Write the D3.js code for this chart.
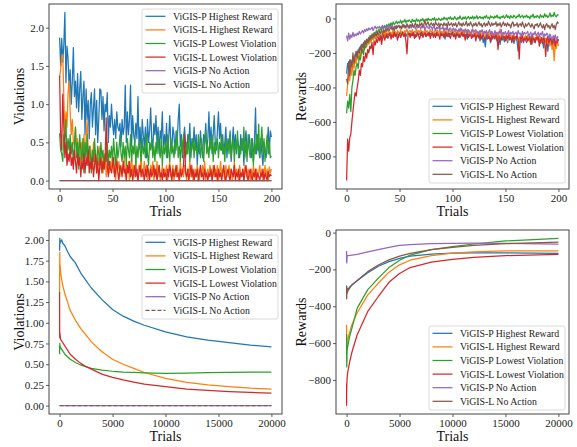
<!DOCTYPE html>
<html><head><meta charset="utf-8">
<script src="https://cdn.jsdelivr.net/npm/d3@7/dist/d3.min.js"></script>
<style>
html,body{margin:0;padding:0;background:#fff;}
svg{display:block;font-family:"Liberation Serif","Times New Roman",serif;}
</style></head>
<body><svg id="chart" width="577" height="447"></svg>
<script>
// ---------- series names & colours ----------
const seriesNames = ["ViGIS-P Highest Reward","ViGIS-L Highest Reward","ViGIS-P Lowest Violation","ViGIS-L Lowest Violation","ViGIS-P No Action","ViGIS-L No Action"];
const seriesColors = ["#1f77b4","#ff7f0e","#2ca02c","#d62728","#9467bd","#8c564b"];

// ---------- top-left: violations per trial (0..200) ----------
const trials200 = d3.range(0, 201);
const violPHigh = [1.87,1.5,1.86,1.55,1.78,2.2,1.28,1.76,1.6,1.2,
1.45,1.0,1.3,1.74,1.1,1.3,0.95,1.4,0.9,1.2,
1.43,0.8,1.1,1.3,0.6,1.2,0.8,1.05,0.55,1.0,
1.15,0.7,0.95,1.2,0.6,1.05,0.5,0.8,1.2,1.18,
0.8,1.1,0.65,1.0,0.9,1.15,0.5,0.85,0.7,1.0,
0.75,0.6,0.8,0.55,0.9,0.7,0.65,0.75,0.45,0.8,
0.6,0.7,1.25,0.5,0.9,0.6,0.8,1.25,0.45,0.85,
0.6,0.5,0.75,0.55,1.1,0.45,0.7,0.35,0.8,0.6,
0.45,0.7,0.3,0.8,0.5,0.65,0.95,0.55,0.4,0.75,
0.6,0.85,0.45,0.7,0.35,0.65,0.55,0.9,0.4,0.6,
0.45,0.75,0.3,0.55,0.85,0.5,0.4,0.7,0.6,0.35,
0.65,0.5,0.8,1.0,0.45,0.6,0.3,0.55,0.7,0.45,
0.35,0.6,0.5,0.75,0.3,0.55,0.45,0.7,0.4,0.6,
0.2,0.5,0.35,0.65,0.45,0.3,0.6,0.5,0.75,0.4,
0.55,0.9,0.45,0.7,0.35,0.6,0.85,0.5,0.4,0.65,
0.9,0.55,0.75,0.4,0.6,0.35,0.5,0.7,0.3,0.55,
0.45,0.65,0.25,0.5,0.7,0.4,0.6,0.35,0.55,0.45,
0.3,0.6,0.4,0.55,0.2,0.5,0.65,0.35,0.45,0.6,
0.4,0.3,0.55,0.25,0.5,0.95,0.35,0.6,0.4,0.3,
0.55,0.35,0.2,0.5,0.4,0.3,0.45,0.7,0.35,0.65,
0.57];
const violLHigh = [1.35,1.45,1.62,1.65,1.1,0.6,0.9,0.7,1.15,1.3,
0.9,0.6,0.8,0.5,0.45,0.7,0.3,0.55,0.4,0.2,
0.35,0.5,0.25,0.6,0.3,0.55,0.8,0.4,0.2,0.45,
0.3,0.15,0.5,0.25,0.4,0.1,0.3,0.2,0.45,0.15,
0.3,0.1,0.25,0.35,0.05,0.2,0.3,0.1,0.25,0.15,
0.35,0.1,0.2,0.0,0.3,0.15,0.25,0.05,0.2,0.1,
0.15,0.3,0.05,0.2,0.1,0.25,0.0,0.15,0.3,0.1,
0.2,0.05,0.25,0.1,0.0,0.2,0.15,0.3,0.05,0.1,
0.25,0.1,0.2,0.0,0.15,0.05,0.2,0.1,0.25,0.0,
0.15,0.1,0.25,0.05,0.2,0.0,0.1,0.2,0.05,0.15,
0.1,0.2,0.0,0.15,0.25,0.05,0.1,0.2,0.0,0.15,
0.05,0.2,0.1,0.0,0.25,0.1,0.15,0.05,0.2,0.1,
0.0,0.15,0.1,0.25,0.05,0.2,0.0,0.1,0.15,0.05,
0.2,0.1,0.0,0.15,0.05,0.2,0.1,0.25,0.0,0.1,
0.15,0.05,0.2,0.1,0.0,0.2,0.05,0.15,0.1,0.2,
0.0,0.1,0.25,0.05,0.15,0.1,0.0,0.2,0.05,0.1,
0.2,0.05,0.15,0.0,0.1,0.25,0.05,0.15,0.1,0.0,
0.2,0.1,0.05,0.15,0.0,0.2,0.1,0.05,0.15,0.1,
0.0,0.15,0.05,0.2,0.1,0.0,0.15,0.05,0.1,0.2,
0.05,0.15,0.0,0.1,0.2,0.05,0.15,0.0,0.18,0.1,
0.15];
const violPLow = [0.62,0.4,0.35,0.25,0.6,0.5,0.8,0.3,0.55,0.4,
0.6,0.35,0.5,0.2,0.45,0.7,0.3,0.5,0.15,0.6,
0.4,0.25,0.55,0.1,0.5,0.3,0.6,0.2,0.45,0.35,
0.1,0.4,0.25,0.55,0.3,0.15,0.45,0.35,0.2,0.5,
0.3,0.4,0.15,0.35,0.25,0.5,0.2,0.4,0.3,0.45,
0.25,0.55,0.35,0.2,0.5,0.3,0.4,0.6,0.35,0.25,
0.5,0.3,0.45,0.2,0.55,0.4,0.3,0.6,0.25,0.45,
0.35,0.55,0.2,0.45,0.3,0.5,0.4,0.25,0.55,0.35,
0.45,0.3,0.6,0.35,0.2,0.5,0.4,0.55,0.3,0.45,
0.25,0.5,0.35,0.6,0.4,0.3,0.55,0.2,0.45,0.35,
0.5,0.3,0.6,0.4,0.25,0.55,0.35,0.45,0.3,0.5,
0.4,0.65,0.3,0.45,0.25,0.55,0.35,0.6,0.4,0.3,
0.5,0.35,0.6,0.25,0.45,0.4,0.55,0.3,0.5,0.4,
0.35,0.6,0.45,0.3,0.55,0.4,0.25,0.5,0.65,0.35,
0.45,0.3,0.55,0.4,0.6,0.25,0.5,0.35,0.45,0.55,
0.3,0.5,0.4,0.6,0.35,0.45,0.25,0.55,0.4,0.5,
0.35,0.6,0.3,0.45,0.55,0.25,0.5,0.4,0.65,0.3,
0.45,0.35,0.55,0.4,0.7,0.3,0.5,0.25,0.6,0.4,
0.3,0.55,0.45,0.2,0.5,0.35,0.6,0.4,0.74,0.3,
0.5,0.7,0.35,0.55,0.25,0.45,0.6,0.35,0.5,0.3,
0.32];
const violLLow = [1.37,0.6,0.4,1.13,0.7,0.3,0.5,0.2,0.35,0.25,
0.45,0.2,0.3,0.15,0.4,0.25,0.1,0.35,0.2,0.3,
0.05,0.25,0.15,0.35,0.1,0.3,0.2,0.4,0.1,0.25,
0.15,0.3,0.05,0.2,0.35,0.1,0.25,0.0,0.2,0.3,
0.1,0.25,0.15,0.3,0.82,0.2,0.05,0.25,0.15,0.1,
0.2,0.3,0.05,0.15,0.25,0.1,0.0,0.2,0.15,0.05,
0.25,0.1,0.15,0.0,0.2,0.1,0.25,0.05,0.15,0.0,
0.1,0.2,0.05,0.15,0.0,0.1,0.2,0.05,0.15,0.1,
0.0,0.15,0.05,0.2,0.1,0.0,0.15,0.05,0.1,0.2,
0.05,0.15,0.0,0.1,0.2,0.05,0.1,0.0,0.15,0.05,
0.1,0.0,0.15,0.05,0.2,0.1,0.0,0.15,0.05,0.1,
0.2,0.05,0.1,0.0,0.15,0.05,0.1,0.2,0.6,0.1,
0.05,0.15,0.0,0.1,0.2,0.05,0.15,0.0,0.1,0.05,
0.15,0.0,0.1,0.2,0.05,0.1,0.0,0.15,0.05,0.1,
0.0,0.1,0.05,0.15,0.0,0.1,0.2,0.05,0.1,0.0,
0.15,0.05,0.1,0.0,0.1,0.2,0.05,0.0,0.1,0.15,
0.05,0.0,0.15,0.1,0.05,0.2,0.0,0.1,0.05,0.15,
0.0,0.1,0.05,0.15,0.0,0.1,0.2,0.05,0.0,0.1,
0.15,0.05,0.0,0.1,0.05,0.15,0.0,0.1,0.05,0.0,
0.1,0.05,0.15,0.0,0.1,0.05,0.0,0.12,0.05,0.08,
0.06];
const noActionTrials = [0, 200];
const violNoActionP = [0, 0];
const violNoActionL = [0, 0];

// ---------- top-right: rewards per trial (0..200) ----------
const rewPHigh = [-320,-260,-290,-240,-270,-300,-230,-250,-210,-220,
-190,-200,-170,-180,-150,-165,-140,-160,-130,-150,
-125,-140,-110,-130,-105,-120,-100,-115,-95,-110,
-90,-105,-85,-120,-95,-80,-100,-90,-110,-85,
-95,-80,-105,-90,-75,-100,-85,-95,-80,-110,
-90,-80,-100,-85,-95,-75,-105,-90,-80,-95,
-85,-100,-80,-95,-90,-110,-85,-75,-95,-90,
-80,-100,-85,-95,-75,-105,-90,-80,-100,-85,
-95,-80,-110,-90,-85,-100,-75,-95,-90,-80,
-100,-85,-95,-120,-80,-90,-105,-85,-95,-80,
-90,-105,-85,-100,-80,-95,-110,-90,-85,-100,
-95,-80,-105,-90,-120,-85,-100,-95,-80,-110,
-100,-90,-115,-95,-105,-85,-130,-100,-95,-140,
-110,-165,-100,-120,-95,-110,-140,-105,-120,-100,
-115,-95,-130,-105,-120,-150,-100,-125,-110,-135,
-105,-120,-140,-110,-125,-100,-130,-115,-145,-120,
-110,-135,-190,-120,-105,-140,-115,-130,-110,-125,
-140,-115,-120,-100,-130,-150,-110,-125,-140,-115,
-105,-130,-120,-145,-110,-125,-170,-115,-135,-120,
-190,-130,-110,-140,-120,-150,-125,-160,-135,-120,
-130];
const rewLHigh = [-450,-380,-310,-360,-270,-330,-250,-290,-230,-260,
-210,-240,-190,-220,-170,-200,-160,-180,-140,-165,
-130,-150,-120,-140,-105,-125,-110,-95,-120,-100,
-90,-110,-85,-100,-95,-80,-105,-75,-95,-85,
-70,-90,-80,-95,-65,-85,-75,-100,-70,-80,
-90,-65,-85,-75,-95,-70,-80,-60,-90,-75,
-70,-85,-65,-95,-75,-80,-60,-90,-70,-85,
-65,-80,-75,-90,-60,-85,-70,-80,-95,-65,
-80,-70,-90,-75,-60,-85,-70,-95,-65,-80,
-75,-90,-60,-85,-70,-80,-95,-65,-75,-85,
-70,-90,-65,-80,-100,-70,-85,-60,-90,-75,
-80,-95,-70,-85,-65,-90,-75,-100,-80,-70,
-85,-95,-75,-110,-80,-90,-70,-100,-85,-95,
-75,-105,-90,-80,-115,-85,-100,-75,-95,-110,
-85,-100,-80,-120,-90,-60,-105,-95,-85,-115,
-100,-90,-130,-85,-110,-95,-120,-100,-90,-125,
-105,-95,-115,-140,-100,-120,-90,-130,-110,-100,
-125,-95,-115,-135,-105,-120,-100,-140,-110,-125,
-95,-130,-115,-105,-140,-120,-100,-135,-115,-150,
-110,-130,-160,-120,-180,-140,-245,-150,-175,-130,
-160];
const rewPLow = [-550,-480,-520,-440,-540,-400,-360,-300,-330,-280,
-260,-290,-220,-240,-200,-180,-210,-160,-170,-140,
-120,-135,-100,-115,-90,-105,-80,-95,-70,-85,
-65,-75,-55,-70,-45,-60,-40,-55,-35,-50,
-30,-45,-25,-40,-20,-35,-28,-15,-30,-20,
-25,-10,-30,-15,-20,-5,-25,-12,-18,-8,
-15,-25,-5,-18,-10,-20,-2,-15,-8,-22,
-5,-12,0,-18,-8,-3,-15,2,-10,-5,
-12,0,-8,5,-15,-3,-10,2,-6,-12,
0,-8,8,-4,3,-10,5,-2,10,-6,
2,-5,12,0,-8,6,-3,15,1,-6,
8,-2,10,-5,4,12,-3,7,0,14,
-4,9,2,16,-2,6,11,0,8,-3,
12,4,18,2,8,-4,15,6,10,0,
14,5,20,3,9,-2,12,7,16,2,
10,22,6,13,0,17,8,4,19,9,
2,15,10,24,5,12,18,3,14,8,
20,6,11,-2,16,9,25,4,13,7,
18,10,2,22,8,15,5,28,11,19,
6,14,32,9,20,12,35,16,10,22,
18];
const rewLLow = [-940,-700,-770,-690,-670,-600,-540,-480,-430,-450,
-400,-360,-300,-330,-260,-280,-220,-250,-200,-230,
-180,-200,-160,-175,-140,-210,-130,-155,-120,-140,
-110,-130,-100,-150,-115,-95,-125,-105,-90,-115,
-100,-85,-120,-95,-110,-80,-105,-90,-125,-100,
-85,-110,-95,-80,-105,-90,-130,-205,-95,-85,
-110,-90,-100,-80,-115,-95,-105,-85,-100,-120,
-90,-80,-110,-95,-85,-105,-90,-100,-80,-115,
-95,-85,-105,-90,-110,-80,-100,-95,-120,-85,
-100,-90,-110,-80,-95,-105,-85,-100,-115,-90,
-80,-105,-95,-120,-85,-100,-90,-110,-95,-80,
-105,-90,-125,-95,-85,-110,-100,-90,-115,-95,
-105,-85,-130,-100,-95,-115,-90,-120,-105,-95,
-110,-125,-100,-90,-115,-105,-135,-95,-110,-100,
-120,-95,-110,-180,-100,-115,-125,-95,-110,-105,
-130,-100,-115,-95,-120,-110,-140,-100,-125,-105,
-115,-95,-130,-235,-110,-120,-100,-140,-115,-125,
-105,-130,-120,-110,-150,-100,-125,-115,-140,-110,
-120,-105,-160,-125,-115,-145,-110,-130,-220,-120,
-105,-140,-125,-115,-150,-130,-110,-160,-125,-140,
-120];
const rewPNone = [-100,-130,-85,-120,-95,-110,-80,-105,-90,-100,
-85,-95,-75,-90,-80,-70,-85,-65,-75,-60,
-70,-55,-65,-60,-50,-70,-55,-45,-60,-50,
-55,-45,-60,-50,-40,-55,-45,-60,-50,-40,
-55,-45,-50,-40,-60,-45,-55,-40,-50,-45,
-40,-55,-45,-50,-35,-55,-45,-50,-40,-60,
-45,-55,-40,-50,-45,-60,-40,-55,-50,-45,
-60,-45,-55,-40,-65,-50,-45,-55,-60,-45,
-50,-65,-45,-55,-70,-50,-60,-45,-65,-55,
-60,-50,-70,-55,-65,-50,-75,-60,-55,-70,
-65,-55,-75,-60,-70,-80,-60,-70,-55,-75,
-65,-80,-60,-70,-85,-65,-75,-90,-70,-60,
-80,-70,-65,-85,-75,-95,-70,-80,-65,-90,
-75,-85,-70,-95,-80,-65,-90,-75,-85,-100,
-70,-90,-80,-95,-75,-85,-65,-100,-80,-90,
-75,-95,-85,-70,-100,-80,-90,-75,-95,-85,
-80,-100,-70,-90,-85,-105,-75,-95,-80,-90,
-85,-75,-100,-90,-80,-110,-85,-95,-75,-100,
-90,-80,-105,-85,-95,-75,-110,-90,-100,-85,
-95,-115,-90,-105,-125,-100,-110,-95,-130,-105,
-110];
const rewLNone = [-350,-380,-250,-330,-240,-280,-200,-260,-220,-190,
-230,-180,-200,-160,-190,-150,-170,-130,-150,-120,
-140,-110,-125,-100,-115,-90,-105,-85,-100,-80,
-95,-75,-85,-70,-90,-65,-80,-60,-75,-55,
-70,-60,-50,-65,-55,-70,-45,-60,-50,-40,
-55,-45,-60,-35,-50,-40,-55,-30,-45,-50,
-35,-45,-30,-50,-40,-25,-45,-35,-50,-30,
-40,-25,-45,-35,-10,-40,-30,-20,-45,-35,
-25,-40,-30,-45,-20,-35,-40,-25,-50,-30,
-35,-45,-25,-40,-30,-50,-20,-40,-35,-25,
-45,-30,-40,-25,-50,-35,-20,-40,-30,-45,
-25,-40,-35,-15,-45,-30,-40,-20,-35,-50,
-30,-40,-25,-45,-35,-20,-40,-30,-50,-35,
-25,-45,-30,-40,-15,-35,-45,-25,-40,-30,
-35,-20,-45,-30,-40,-25,-50,-35,-20,-40,
-30,-45,-25,-40,-35,-55,-30,-20,-45,-35,
-40,-25,-50,-35,-30,-45,-20,-40,-55,-30,
-45,-35,-25,-40,-50,-30,-45,-60,-35,-40,
-30,-50,-40,-25,-45,-55,-35,-65,-40,-30,
-50,-40,-60,-45,-30,-55,-40,-65,-35,-20,
-30];

// ---------- bottom-left: running-average violations ----------
const cumViolTrials = [0,5,10,20,30,50,100,200,300,500,750,1000,1500,2000,2500,3000,4000,5000,6000,7000,8000,10000,12000,14000,16000,18000,20000];
const cumViolPHigh = [1.87,1.95,1.9,2.02,1.99,1.96,1.98,2.0,1.96,1.93,1.86,1.8,1.72,1.6,1.51,1.42,1.28,1.16,1.08,1.02,0.97,0.89,0.83,0.79,0.76,0.73,0.71];
const cumViolLHigh = [1.35,1.55,1.7,1.85,1.6,1.7,1.6,1.52,1.45,1.35,1.25,1.15,1.03,0.93,0.85,0.77,0.65,0.56,0.5,0.45,0.4,0.33,0.28,0.25,0.23,0.21,0.2];
const cumViolPLow = [0.62,0.72,0.66,0.75,0.7,0.72,0.7,0.68,0.66,0.62,0.59,0.56,0.52,0.49,0.47,0.45,0.43,0.415,0.405,0.4,0.395,0.39,0.393,0.397,0.4,0.403,0.405];
const cumViolLLow = [1.37,1.0,0.86,0.82,0.88,0.85,0.8,0.78,0.76,0.72,0.67,0.62,0.56,0.51,0.47,0.44,0.38,0.34,0.31,0.285,0.26,0.23,0.2,0.185,0.17,0.16,0.15];
const cumViolPNone = [0,0,0,0,0,0,0,0,0,0,0,0,0,0,0,0,0,0,0,0,0,0,0,0,0,0,0];
const cumViolLNone = [0,0,0,0,0,0,0,0,0,0,0,0,0,0,0,0,0,0,0,0,0,0,0,0,0,0,0];

// ---------- bottom-right: running-average rewards ----------
const cumRewTrials = [0,5,10,20,50,100,300,500,1000,2000,3000,4000,5000,6000,8000,10000,12000,15000,20000];
const cumRewPHigh = [-320,-290,-330,-300,-315,-310,-295,-285,-262,-218,-183,-158,-140,-128,-117,-112,-110,-110,-113];
const cumRewLHigh = [-500,-560,-600,-620,-590,-580,-540,-500,-435,-338,-274,-215,-175,-150,-125,-112,-105,-100,-99];
const cumRewPLow = [-550,-650,-700,-730,-640,-620,-560,-520,-410,-310,-247,-190,-150,-122,-92,-76,-62,-45,-32];
const cumRewLLow = [-940,-820,-870,-830,-790,-760,-700,-650,-555,-428,-347,-270,-222,-190,-160,-145,-135,-125,-118];
const cumRewPNone = [-100,-160,-115,-165,-130,-125,-124,-122,-118,-105,-92,-80,-70,-65,-60,-58,-57,-58,-63];
const cumRewLNone = [-350,-300,-360,-300,-330,-320,-300,-285,-260,-212,-176,-148,-128,-113,-92,-80,-70,-60,-52];

// ---------- tick values ----------
const xTicks200 = [0,50,100,150,200];
const xTicks20k = [0,5000,10000,15000,20000];
const yTicksViolTop = [0,0.5,1.0,1.5,2.0];
const yTicksViolBottom = [0,0.25,0.5,0.75,1.0,1.25,1.5,1.75,2.0];
const yTicksRew = [-800,-600,-400,-200,0];

// ---------- drawing ----------
const svg = d3.select("#chart");
const minus = s => s.replace("-", "\u2212");

function makeSeries(xs, ys, i, dashed) {
  return {x: xs, y: ys, color: seriesColors[i], name: seriesNames[i], dashed: !!dashed};
}

const panels = [
  {box:[49,282,4,189], xdom:[-10,210], ydom:[-0.11,2.31], xticks:xTicks200, yticks:yTicksViolTop, yfmt:d3.format(".1f"),
   ylabel:"Violations", legend:[142,9],
   series:[makeSeries(trials200,violPHigh,0),makeSeries(trials200,violLHigh,1),makeSeries(trials200,violPLow,2),
           makeSeries(trials200,violLLow,3),makeSeries(noActionTrials,violNoActionP,4),makeSeries(noActionTrials,violNoActionL,5)]},
  {box:[336,569,4,189], xdom:[-10,210], ydom:[-989,84], xticks:xTicks200, yticks:yTicksRew, yfmt:d3.format("d"),
   ylabel:"Rewards", legend:[429,99],
   series:[makeSeries(trials200,rewPHigh,0),makeSeries(trials200,rewLHigh,1),makeSeries(trials200,rewPLow,2),
           makeSeries(trials200,rewLLow,3),makeSeries(trials200,rewPNone,4),makeSeries(trials200,rewLNone,5)]},
  {box:[49,282,230,414], xdom:[-1000,21000], ydom:[-0.101,2.12], xticks:xTicks20k, yticks:yTicksViolBottom, yfmt:d3.format(".2f"),
   ylabel:"Violations", legend:[142,235],
   series:[makeSeries(cumViolTrials,cumViolPHigh,0),makeSeries(cumViolTrials,cumViolLHigh,1),makeSeries(cumViolTrials,cumViolPLow,2),
           makeSeries(cumViolTrials,cumViolLLow,3),makeSeries(cumViolTrials,cumViolPNone,4),makeSeries(cumViolTrials,cumViolLNone,5,true)]},
  {box:[336,569,230,414], xdom:[-1000,21000], ydom:[-985,14], xticks:xTicks20k, yticks:yTicksRew, yfmt:d3.format("d"),
   ylabel:"Rewards", legend:[429,326],
   series:[makeSeries(cumRewTrials,cumRewPHigh,0),makeSeries(cumRewTrials,cumRewLHigh,1),makeSeries(cumRewTrials,cumRewPLow,2),
           makeSeries(cumRewTrials,cumRewLLow,3),makeSeries(cumRewTrials,cumRewPNone,4),makeSeries(cumRewTrials,cumRewLNone,5)]}
];

const TICK_FONT = 11, LABEL_FONT = 14, LEGEND_FONT = 9.8;

panels.forEach((p, pi) => {
  const [x0,x1,y0,y1] = p.box;
  const x = d3.scaleLinear().domain(p.xdom).range([x0,x1]);
  const y = d3.scaleLinear().domain(p.ydom).range([y1,y0]);
  const g = svg.append("g");
  const clipId = "clip"+pi;
  svg.append("clipPath").attr("id",clipId).append("rect").attr("x",x0).attr("y",y0).attr("width",x1-x0).attr("height",y1-y0);

  const line = d3.line().x((d)=>x(d[0])).y((d)=>y(d[1]));
  const lg = g.append("g").attr("clip-path","url(#"+clipId+")");
  p.series.forEach(s => {
    const pts = s.x.map((xv,k)=>[xv, s.y[k]]);
    lg.append("path").datum(pts).attr("d", line)
      .attr("fill","none").attr("stroke", s.color).attr("stroke-width", 1.25)
      .attr("stroke-linejoin","round")
      .attr("stroke-dasharray", s.dashed ? "4,2" : null);
  });

  // axes
  const xa = g.append("g").attr("transform",`translate(0,${y1})`)
    .call(d3.axisBottom(x).tickValues(p.xticks).tickFormat(d3.format("d")).tickSize(3).tickPadding(2));
  const ya = g.append("g").attr("transform",`translate(${x0},0)`)
    .call(d3.axisLeft(y).tickValues(p.yticks).tickFormat(d=>minus(p.yfmt(d))).tickSize(3).tickPadding(2));
  [xa,ya].forEach(a=>{
    a.select(".domain").remove();
    a.selectAll("line").attr("stroke","#333").attr("stroke-width",0.8);
    a.selectAll("text").attr("fill","#222").style("font-size",TICK_FONT+"px").style("font-family","'Liberation Serif',serif");
  });
  // frame
  g.append("rect").attr("x",x0).attr("y",y0).attr("width",x1-x0).attr("height",y1-y0)
    .attr("fill","none").attr("stroke","#444").attr("stroke-width",1);

  // axis titles
  g.append("text").attr("x",(x0+x1)/2).attr("y",y1+27).attr("text-anchor","middle")
    .style("font-size",LABEL_FONT+"px").attr("fill","#111").text("Trials");
  const ylx = pi%2===0 ? 24 : 306;
  g.append("text").attr("transform",`translate(${ylx},${(y0+y1)/2}) rotate(-90)`).attr("text-anchor","middle")
    .style("font-size",LABEL_FONT+"px").attr("fill","#111").text(p.ylabel);

  // legend
  const [lx,ly] = p.legend;
  const leg = g.append("g");
  leg.append("rect").attr("x",lx).attr("y",ly).attr("width",136).attr("height",84).attr("rx",2)
    .attr("fill","#fff").attr("fill-opacity",0.8).attr("stroke","#d0d0d0").attr("stroke-width",0.8);
  p.series.forEach((s,k)=>{
    const cy = ly + 7.3 + k*13.6;
    leg.append("line").attr("x1",lx+3.5).attr("x2",lx+23.5).attr("y1",cy).attr("y2",cy)
      .attr("stroke",s.color).attr("stroke-width",1.25).attr("stroke-dasharray", s.dashed ? "4,2" : null);
    leg.append("text").attr("x",lx+31).attr("y",cy+3.5).style("font-size",LEGEND_FONT+"px").attr("fill","#222").text(s.name);
  });
});
</script>
</body></html>
